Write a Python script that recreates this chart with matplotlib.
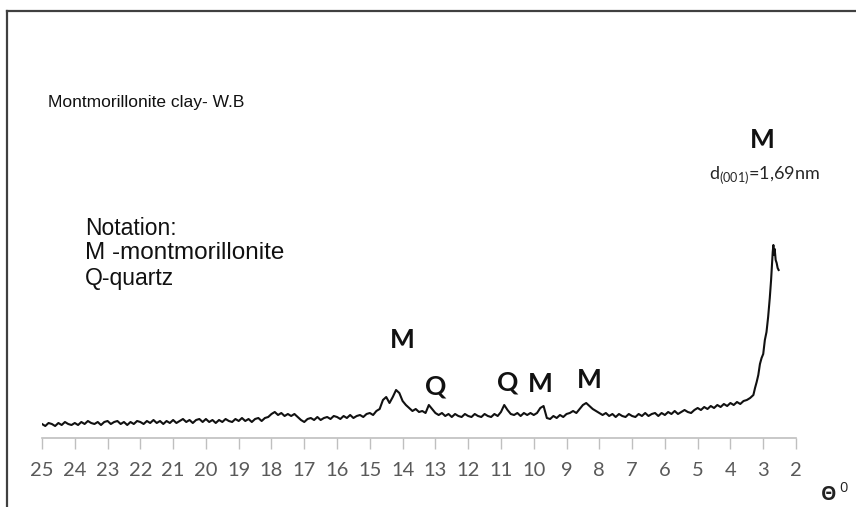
#! /usr/bin/env python3
# -*- coding:utf-8 -*-

"""
XRD pattern of a montmorillonite clay (W.B)
"""

import matplotlib
matplotlib.use('Agg')
import matplotlib.pyplot as plt
from matplotlib import font_manager
from matplotlib.lines import Line2D
import numpy as np


# 2-theta grid, 25.0 -> 3.3 deg in 0.1 steps
theta_coarse = np.arange(250, 32, -1) / 10.0
intensidad_coarse = [
    14, 12, 15, 14, 12, 15, 13, 16, 14, 13,   # 25.0 - 24.1
    15, 13, 16, 14, 17, 15, 14, 16, 13, 16,   # 24.0 - 23.1
    17, 14, 16, 17, 14, 16, 13, 16, 14, 17,   # 23.0 - 22.1
    16, 14, 17, 15, 18, 15, 17, 14, 17, 15,   # 22.0 - 21.1
    18, 15, 17, 19, 16, 18, 15, 18, 19, 16,   # 21.0 - 20.1
    19, 16, 18, 15, 18, 16, 19, 17, 16, 19,   # 20.0 - 19.1
    17, 20, 17, 19, 16, 19, 20, 17, 20, 21,   # 19.0 - 18.1
    24, 26, 23, 25, 22, 24, 22, 24, 21, 18,   # 18.0 - 17.1
    16, 19, 20, 18, 21, 18, 20, 21, 19, 22,   # 17.0 - 16.1
    21, 19, 22, 20, 23, 20, 22, 23, 21, 24,   # 16.0 - 15.1
    25, 23, 27, 29, 38, 41, 35, 41, 48, 45,   # 15.0 - 14.1
    37, 33, 30, 27, 29, 26, 27, 25, 33, 29,   # 14.0 - 13.1
    25, 23, 25, 22, 24, 21, 24, 22, 21, 24,   # 13.0 - 12.1
    22, 21, 24, 22, 21, 24, 22, 21, 24, 22,   # 12.0 - 11.1
    26, 33, 28, 24, 23, 25, 22, 25, 23, 25,   # 11.0 - 10.1
    23, 25, 30, 32, 20, 19, 22, 20, 23, 21,   # 10.0 - 9.1
    24, 25, 27, 25, 29, 33, 35, 32, 29, 27,   # 9.0 - 8.1
    25, 23, 25, 22, 24, 21, 24, 22, 21, 24,   # 8.0 - 7.1
    22, 21, 24, 22, 25, 22, 24, 25, 22, 25,   # 7.0 - 6.1
    23, 26, 24, 27, 24, 26, 28, 26, 25, 28,   # 6.0 - 5.1
    30, 28, 31, 29, 32, 30, 33, 31, 34, 32,   # 5.0 - 4.1
    35, 33, 36, 34, 37, 38, 40, 43,           # 4.0 - 3.3
]

# finer reading around the d(001) reflection
theta_fino = [3.25, 3.2, 3.15, 3.1, 3.05, 3.0, 2.95, 2.9, 2.85, 2.8,
              2.76, 2.73, 2.71, 2.69, 2.67, 2.65, 2.62, 2.59, 2.56, 2.53]
intensidad_fino = [50, 56, 63, 74, 80, 84, 98, 106, 121, 140,
                   158, 176, 186, 193, 183, 189, 178, 175, 170, 168]

ticks = list(range(25, 1, -1))

# peak labels: (2theta, intensity, text)
picos_theta = [14.0, 13.0, 10.8, 9.8, 8.3, 3.02]
picos_y = [98, 52, 55, 54, 58, 298]
picos_txt = ['M', 'Q', 'Q', 'M', 'M', 'M']


def pick_font(names):
    for n in names:
        try:
            font_manager.findfont(n, fallback_to_default=False)
            return n
        except ValueError:
            pass
    return 'DejaVu Sans'


def plot_xrd():
    narrow = pick_font(['Liberation Sans Narrow', 'Liberation Sans'])
    arial = pick_font(['Liberation Sans', 'Arial'])
    calibri = pick_font(['Lato', 'Open Sans'])

    W, H = 856, 507
    fig = plt.figure(figsize=(W / 100, H / 100), dpi=100)
    ax = fig.add_axes([42 / W, (H - 438) / H, (796 - 42) / W, (438 - 11) / H])

    theta = np.concatenate([theta_coarse, theta_fino])
    inten = np.concatenate([intensidad_coarse, intensidad_fino])
    ax.plot(theta, inten, color='#111111', lw=1.5)

    ax.set_xlim(25, 2)
    ax.set_ylim(0, 427)
    ax.set_xticks(ticks)
    ax.set_xticklabels([str(t) for t in ticks])
    ax.set_yticks([])
    for s in ['top', 'right', 'left']:
        ax.spines[s].set_visible(False)
    ax.spines['bottom'].set_color('#bfbfbf')
    ax.spines['bottom'].set_linewidth(1.2)
    ax.tick_params(axis='x', direction='out', length=8, width=1.0,
                   color='#bfbfbf', labelcolor='#595959', pad=9,
                   labelsize=14.5)
    for lab in ax.get_xticklabels():
        lab.set_family(calibri)

    for t, y, txt in zip(picos_theta, picos_y, picos_txt):
        ax.text(t, y, txt, ha='center', va='center', fontsize=19,
                fontweight='bold', family=calibri, color='#111111')

    plt.rcParams['mathtext.fontset'] = 'custom'
    plt.rcParams['mathtext.rm'] = calibri
    ax.text(2.97, 263, r'd$_{\mathrm{(001)}}$=1,69nm', ha='center', va='center',
            fontsize=13, family=calibri, color='#262626')

    # frame of the original slide
    fig.add_artist(Line2D([7 / W, 1], [1 - 11 / H, 1 - 11 / H], color='#404040', lw=1.6))
    fig.add_artist(Line2D([7 / W, 7 / W], [0, 1 - 11 / H], color='#404040', lw=1.6))

    fig.text(48 / W, 1 - 102 / H, 'Montmorillonite clay- W.B', ha='left', va='center',
             fontsize=12.5, family=narrow, color='#111111')
    fig.text(85 / W, 1 - 228 / H, 'Notation:', ha='left', va='center',
             fontsize=16.5, family=arial, color='#111111')
    fig.text(85 / W, 1 - 253 / H, 'M -montmorillonite', ha='left', va='center',
             fontsize=17.5, family=arial, color='#111111')
    fig.text(85 / W, 1 - 279 / H, 'Q-quartz', ha='left', va='center',
             fontsize=16.5, family=arial, color='#111111')

    fig.text(829 / W, 1 - 495 / H, 'Θ', ha='center', va='center', fontsize=14,
             fontweight='bold', family=['Open Sans', 'DejaVu Sans'], color='#222222')
    fig.text(843 / W, 1 - 488 / H, '0', ha='center', va='center', fontsize=10.5,
             family=['Open Sans', 'DejaVu Sans'], color='#222222')

    fig.savefig('out.png', dpi=100)


if __name__ == '__main__':
    plot_xrd()
